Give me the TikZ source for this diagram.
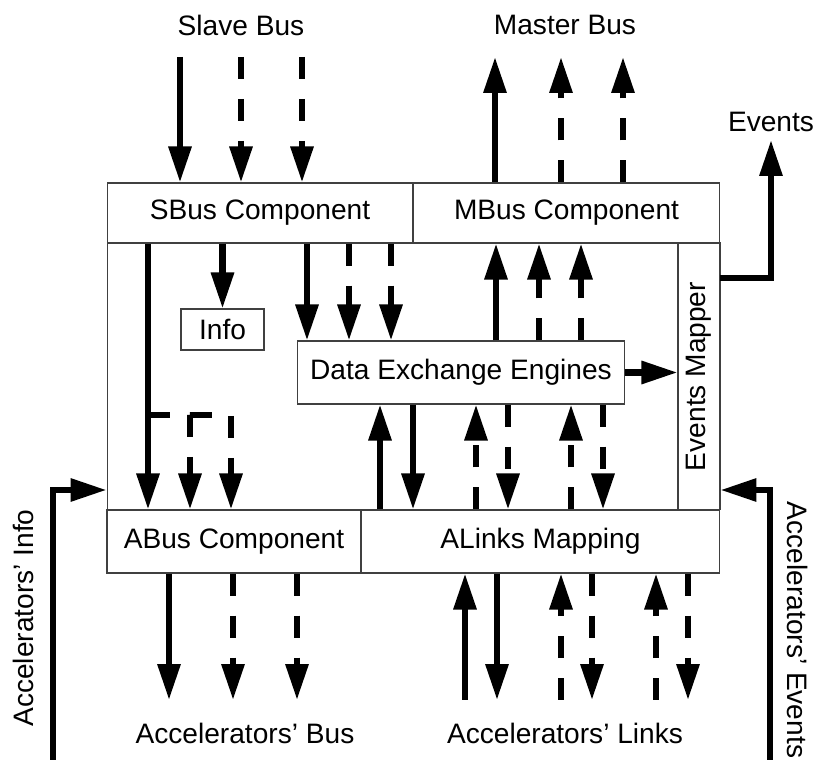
\documentclass[tikz,border=0pt]{standalone}
\usepackage{fontspec}
\setmainfont{Liberation Sans}
\usetikzlibrary{arrows.meta}
\begin{document}
\begin{tikzpicture}[x=0.02cm, y=-0.02cm, >={Triangle[length=0.72cm,width=0.44cm]},
		font=\fontsize{16}{19}\selectfont,
		blk/.style 2 args={draw=black!75, line width=0.6pt, inner sep=0pt, minimum width=#1, minimum height=#2},
		bus/.style={->, line width=3.5pt},
		busd/.style={bus, dash pattern=on 0.44cm off 0.4cm}]
			\useasboundingbox (0,0) rectangle (816,760);

			% 方框
			\node[blk={12.26cm}{7.8cm}] (core) at (413.5,378) {};
			\node[blk={6.12cm}{1.2cm}] (sbus) at (260,213) {SBus Component};
			\node[blk={6.14cm}{1.2cm}] (mbus) at (566.5,213) {MBus Component};
			\node[blk={5.34cm}{0.84cm}, rotate=90] (evmap) at (699,376.5) {Events Mapper};
			\node[blk={5.08cm}{1.26cm}] (abus) at (234,541.5) {ABus Component};
			\node[blk={7.18cm}{1.26cm}] (alinks) at (540.5,541.5) {ALinks Mapping};
			\node[blk={1.66cm}{0.82cm}] (info) at (222.5,329.5) {Info};
			\node[blk={6.56cm}{1.26cm}] (dee) at (461,372.5) {Data Exchange Engines};

			% 外部标签
			\node (slave) at (241,25) {Slave Bus};
			\node (master) at (565,25) {Master Bus};
			\node (events) at (771,122) {Events};
			\node (abuslbl) at (245,733) {Accelerators' Bus};
			\node (alinkslbl) at (565,733) {Accelerators' Links};
			\node[rotate=90] (ainfo) at (23,618) {Accelerators' Info};
			\node[rotate=-90] (aevents) at (798,630) {Accelerators' Events};

			\coordinate (top) at (0,57);
			\coordinate (bot) at (0,700);
			\coordinate (evtop) at (771,140);
			\coordinate (left) at (53,760);
			\coordinate (right) at (770,760);
			\coordinate (split) at (148,415);

			% Slave Bus 与 Master Bus
			\draw[bus] (top -| 180,0) -- (sbus.north -| 180,0);
			\foreach \x in {241,302} \draw[busd] (top -| \x,0) -- (sbus.north -| \x,0);
			\draw[bus] (mbus.north -| 495,0) -- (top -| 495,0);
			\foreach \x in {561,623} \draw[busd] (mbus.north -| \x,0) -- (top -| \x,0);

			% SBus 向下
			\draw[bus] (sbus.south -| split) -- (abus.north -| split);
			\draw[busd] (split) -| (abus.north -| 190,0);
			\draw[busd] (split -| 190,0) -| (abus.north -| 231,0);
			\draw[bus] (sbus.south -| info.north) -- (info.north);
			\draw[bus] (sbus.south -| 307,0) -- (dee.north -| 307,0);
			\foreach \x in {349,391} \draw[busd] (sbus.south -| \x,0) -- (dee.north -| \x,0);

			% Data Exchange Engines 向上、向右
			\draw[bus] (dee.north -| 496,0) -- (mbus.south -| 496,0);
			\foreach \x in {539,581} \draw[busd] (dee.north -| \x,0) -- (mbus.south -| \x,0);
			\draw[bus] (dee.east) -- (dee.east -| evmap.north);

			% ALinks 与 Data Exchange Engines
			\draw[bus] (alinks.north -| 380,0) -- (dee.south -| 380,0);
			\draw[bus] (dee.south -| 413,0) -- (alinks.north -| 413,0);
			\foreach \x in {476,571} \draw[busd] (alinks.north -| \x,0) -- (dee.south -| \x,0);
			\foreach \x in {508,603} \draw[busd] (dee.south -| \x,0) -- (alinks.north -| \x,0);

			% 底部
			\draw[bus] (abus.south -| 169,0) -- (bot -| 169,0);
			\foreach \x in {233,297} \draw[busd] (abus.south -| \x,0) -- (bot -| \x,0);
			\draw[bus] (bot -| 465,0) -- (alinks.south -| 465,0);
			\draw[bus] (alinks.south -| 497,0) -- (bot -| 497,0);
			\foreach \x in {561,656} \draw[busd] (bot -| \x,0) -- (alinks.south -| \x,0);
			\foreach \x in {592,688} \draw[busd] (alinks.south -| \x,0) -- (bot -| \x,0);

			% Events 与 Accelerators
			\draw[bus] (core.east |- 0,278) -| (evtop);
			\draw[bus] (left) |- (core.west |- 0,490);
			\draw[bus] (right) |- (core.east |- 0,490);
		\end{tikzpicture}
\end{document}
